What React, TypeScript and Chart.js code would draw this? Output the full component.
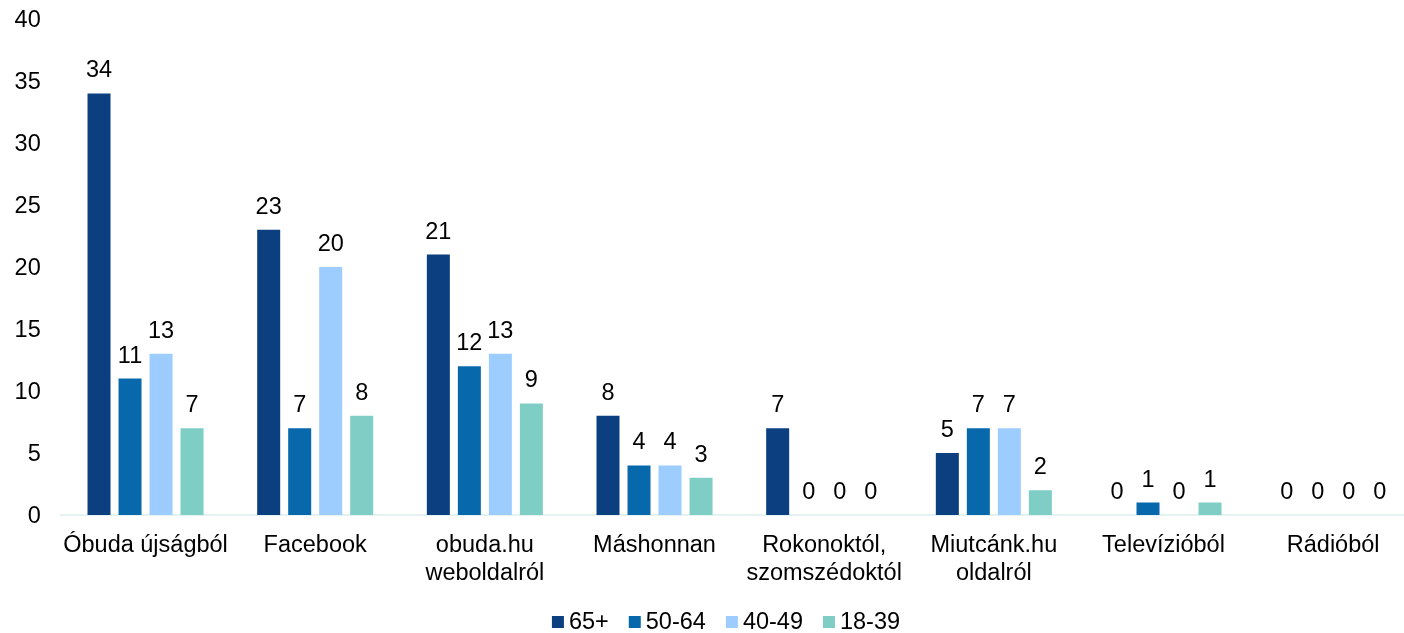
import { useEffect, useRef } from "react";
import { Chart, registerables } from "chart.js";

Chart.register(...registerables);

const categories: string[][] = [
  ["Óbuda újságból"],
  ["Facebook"],
  ["obuda.hu", "weboldalról"],
  ["Máshonnan"],
  ["Rokonoktól,", "szomszédoktól"],
  ["Miutcánk.hu", "oldalról"],
  ["Televízióból"],
  ["Rádióból"],
];
const seriesLabels = ["65+", "50-64", "40-49", "18-39"];
const values65plus = [34, 23, 21, 8, 7, 5, 0, 0];
const values50to64 = [11, 7, 12, 4, 0, 7, 1, 0];
const values40to49 = [13, 20, 13, 4, 0, 7, 0, 0];
const values18to39 = [7, 8, 9, 3, 0, 2, 1, 0];
const seriesColors = ["#0B3F80", "#0868AC", "#9DCDFE", "#7FCEC6"];
const yMin = 0;
const yMax = 40;
const yStep = 5;

const FONT = "Arial, 'Liberation Sans', sans-serif";
const FONT_SIZE = 23.5;

const valueLabelPlugin = {
  id: "valueLabels",
  afterDatasetsDraw(chart: any) {
    const ctx = chart.ctx;
    ctx.save();
    ctx.font = `${FONT_SIZE}px ${FONT}`;
    ctx.fillStyle = "#000";
    ctx.textAlign = "center";
    ctx.textBaseline = "alphabetic";
    chart.data.datasets.forEach((ds: any, i: number) => {
      const meta = chart.getDatasetMeta(i);
      meta.data.forEach((el: any, j: number) => {
        ctx.fillText(String(ds.data[j]), el.x, el.y - 16);
      });
    });
    ctx.restore();
  },
};

const legendPlugin = {
  id: "customLegend",
  afterDraw(chart: any) {
    const ctx = chart.ctx;
    ctx.save();
    ctx.font = `${FONT_SIZE}px ${FONT}`;
    ctx.textBaseline = "middle";
    ctx.textAlign = "left";
    const box = 12;
    const gapBoxText = 5;
    const gapItems = 20;
    const items = chart.data.datasets.map((ds: any) => ({
      label: ds.label,
      color: ds.backgroundColor,
      w: ctx.measureText(ds.label).width,
    }));
    const total =
      items.reduce((s: number, it: any) => s + box + gapBoxText + it.w, 0) +
      gapItems * (items.length - 1);
    const cx = 726;
    const cy = 622;
    let x = cx - total / 2;
    items.forEach((it: any) => {
      ctx.fillStyle = it.color;
      ctx.fillRect(x, cy - box / 2, box, box);
      ctx.fillStyle = "#000";
      ctx.fillText(it.label, x + box + gapBoxText, cy + 1);
      x += box + gapBoxText + it.w + gapItems;
    });
    ctx.restore();
  },
};

export default function App() {
  const canvasRef = useRef<HTMLCanvasElement | null>(null);

  useEffect(() => {
    if (!canvasRef.current) return;
    const seriesValues = [values65plus, values50to64, values40to49, values18to39];
    const chart = new Chart(canvasRef.current, {
      type: "bar",
      data: {
        labels: categories,
        datasets: seriesLabels.map((label, i) => ({
          label,
          data: seriesValues[i],
          backgroundColor: seriesColors[i],
          borderWidth: 0,
          categoryPercentage: 0.731,
          barPercentage: 0.742,
        })),
      },
      options: {
        responsive: false,
        animation: false,
        devicePixelRatio: 1,
        layout: { padding: { top: 19, right: 2, bottom: 38, left: 0 } },
        plugins: {
          legend: { display: false },
          tooltip: { enabled: false },
          title: { display: false },
        },
        scales: {
          x: {
            type: "category",
            offset: true,
            grid: { display: false, drawTicks: false },
            border: { display: true, color: "#e4f2f2", width: 2 },
            ticks: {
              color: "#000",
              padding: 16,
              maxRotation: 0,
              autoSkip: false,
              font: { family: FONT, size: FONT_SIZE, lineHeight: 1.2 },
            },
            afterFit: (scale: any) => {
              scale.height = 80;
            },
          },
          y: {
            min: yMin,
            max: yMax,
            grid: { display: false, drawTicks: false },
            border: { display: false },
            ticks: {
              stepSize: yStep,
              color: "#000",
              padding: 20,
              labelOffset: 2,
              font: { family: FONT, size: FONT_SIZE },
            },
            afterFit: (scale: any) => {
              scale.width = 60.7;
              scale.paddingTop = 0;
              scale.paddingBottom = 0;
            },
          },
        },
      },
      plugins: [valueLabelPlugin, legendPlugin],
    });
    return () => chart.destroy();
  }, []);

  return (
    <div
      style={{
        position: "fixed",
        left: 0,
        top: 0,
        width: 1404,
        height: 633,
        overflow: "hidden",
        background: "#fff",
      }}
    >
      <canvas
        ref={canvasRef}
        width={1420}
        height={633}
        style={{ display: "block", width: 1420, height: 633 }}
      />
    </div>
  );
}
